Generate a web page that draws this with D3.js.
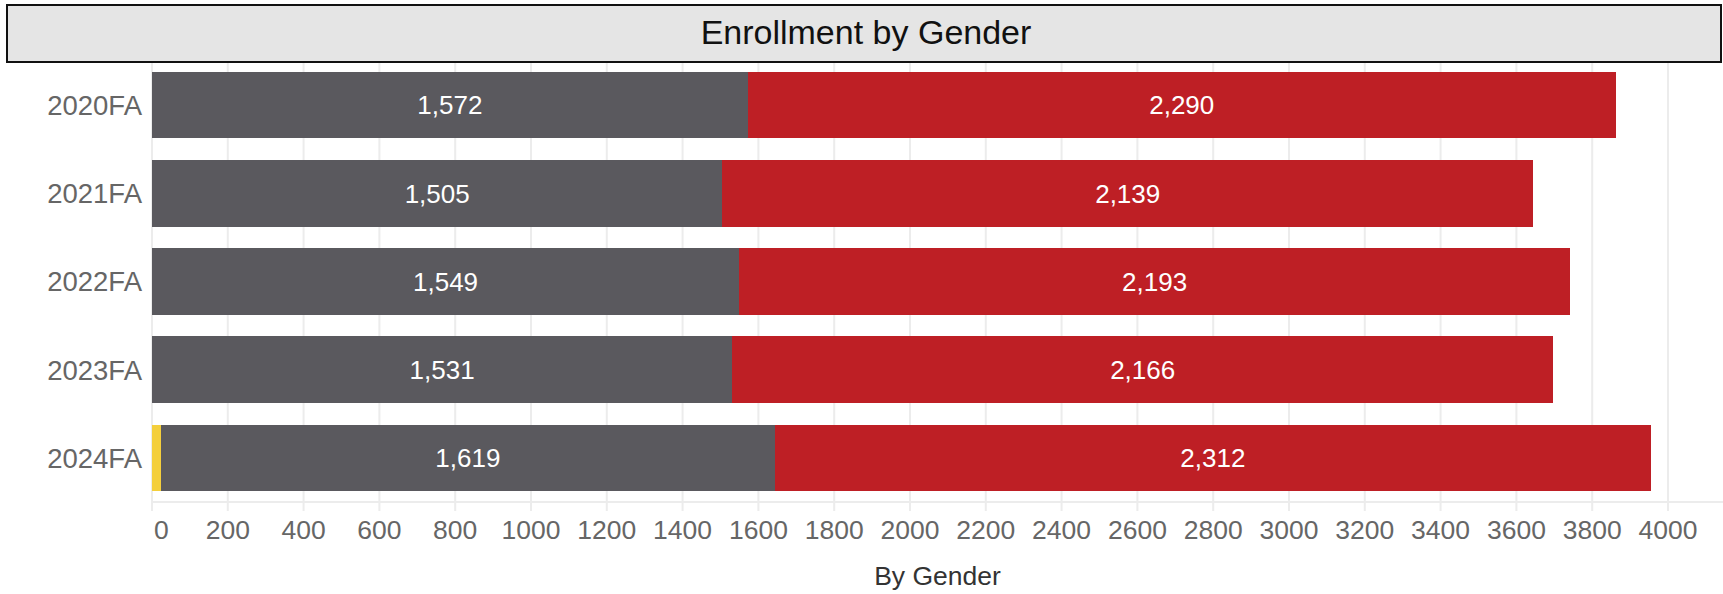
<!DOCTYPE html>
<html>
<style>
  body {
    margin: 0;
    background: #fff;
    font-family: "Liberation Sans", Arial, sans-serif;
  }
</style>

<div id="chart"></div>
<script src="https://d3js.org/d3.v7.min.js"></script>
<script>
  // data
  const terms = ["2020FA", "2021FA", "2022FA", "2023FA", "2024FA"];
  const unknown = [0, 0, 0, 0, 24];
  const male = [1572, 1505, 1549, 1531, 1619];
  const female = [2290, 2139, 2193, 2166, 2312];
  const xTicks = [0, 200, 400, 600, 800, 1000, 1200, 1400, 1600, 1800, 2000,
    2200, 2400, 2600, 2800, 3000, 3200, 3400, 3600, 3800, 4000];

  const W = 1723, H = 594;
  const plotLeft = 152, plotRight = 1668, plotTop = 61, plotBottom = 502;

  const svg = d3.select("#chart")
    .append("svg")
    .attr("width", W)
    .attr("height", H);

  const x = d3.scaleLinear()
    .domain([0, 4000])
    .range([plotLeft, plotRight]);

  const y = d3.scaleBand()
    .domain(terms)
    .range([plotTop, plotBottom])
    .paddingInner(0.245)
    .paddingOuter(0.1225);

  // grid
  svg.append("g")
    .selectAll("line")
    .data(xTicks)
    .enter().append("line")
    .attr("x1", d => x(d)).attr("x2", d => x(d))
    .attr("y1", 62).attr("y2", 511)
    .attr("stroke", "#ececec")
    .attr("stroke-width", 2);

  svg.append("line")
    .attr("x1", plotLeft).attr("x2", W)
    .attr("y1", plotBottom).attr("y2", plotBottom)
    .attr("stroke", "#ececec")
    .attr("stroke-width", 2);

  // stacked segments
  const series = [
    { name: "Unknown", values: unknown, color: "#f4cf3c", label: false },
    { name: "Male", values: male, color: "#5a595e", label: true },
    { name: "Female", values: female, color: "#be1f25", label: true }
  ];

  const rows = [];
  terms.forEach((t, i) => {
    let acc = 0;
    series.forEach(s => {
      const v = s.values[i];
      rows.push({ term: t, x0: acc, x1: acc + v, v: v, color: s.color, label: s.label });
      acc += v;
    });
  });

  svg.append("g")
    .attr("shape-rendering", "crispEdges")
    .selectAll("rect")
    .data(rows.filter(d => d.v > 0))
    .enter().append("rect")
    .attr("x", d => x(d.x0))
    .attr("y", d => y(d.term))
    .attr("width", d => x(d.x1) - x(d.x0))
    .attr("height", y.bandwidth())
    .attr("fill", d => d.color);

  svg.append("g")
    .selectAll("text")
    .data(rows.filter(d => d.label))
    .enter().append("text")
    .attr("x", d => x((d.x0 + d.x1) / 2))
    .attr("y", d => y(d.term) + y.bandwidth() / 2)
    .attr("dy", "0.36em")
    .attr("text-anchor", "middle")
    .attr("fill", "#fff")
    .style("font-size", "26px")
    .text(d => d3.format(",")(d.v));

  // y labels
  svg.append("g")
    .selectAll("text")
    .data(terms)
    .enter().append("text")
    .attr("x", 142)
    .attr("y", d => y(d) + y.bandwidth() / 2)
    .attr("dy", "0.36em")
    .attr("text-anchor", "end")
    .attr("fill", "#666")
    .style("font-size", "27.5px")
    .text(d => d);

  // x tick labels (the first one is pushed inside the plot)
  svg.append("g")
    .selectAll("text")
    .data(xTicks)
    .enter().append("text")
    .attr("x", d => d === 0 ? x(d) + 2 : x(d))
    .attr("y", 539)
    .attr("text-anchor", d => d === 0 ? "start" : "middle")
    .attr("fill", "#666")
    .style("font-size", "26.5px")
    .text(d => d);

  svg.append("text")
    .attr("x", (plotLeft + W) / 2)
    .attr("y", 585)
    .attr("text-anchor", "middle")
    .attr("fill", "#333")
    .style("font-size", "26.5px")
    .text("By Gender");

  // title strip
  svg.append("rect")
    .attr("x", 7).attr("y", 5)
    .attr("width", 1714).attr("height", 57)
    .attr("fill", "#e5e5e5")
    .attr("stroke", "#111")
    .attr("stroke-width", 2);

  svg.append("text")
    .attr("x", 866)
    .attr("y", 44)
    .attr("text-anchor", "middle")
    .attr("fill", "#111")
    .style("font-size", "34px")
    .text("Enrollment by Gender");
</script>

</html>
